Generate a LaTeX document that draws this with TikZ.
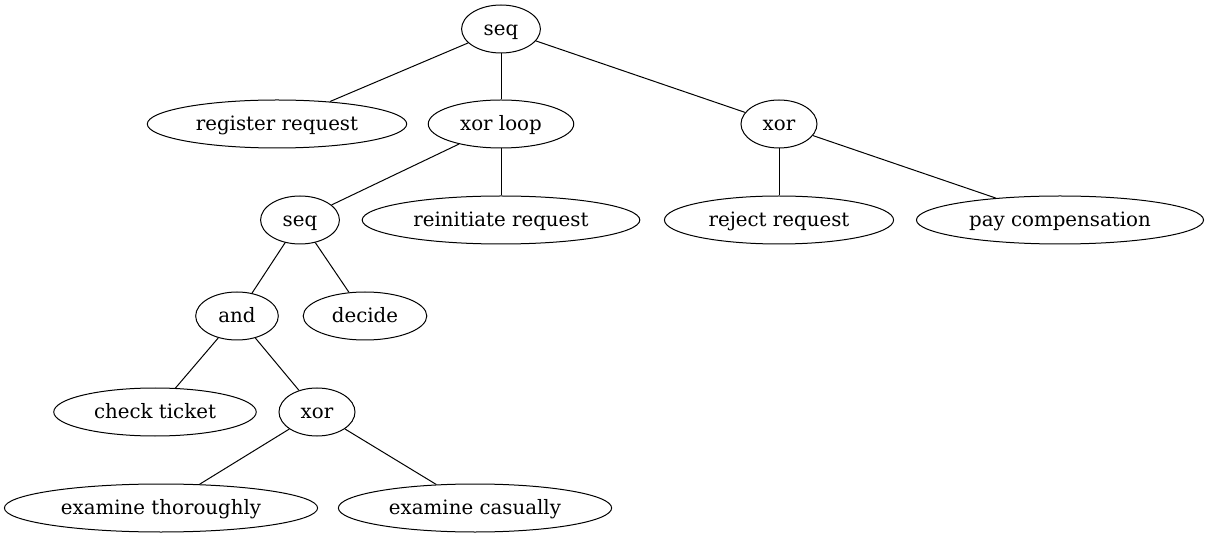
\documentclass[tikz,border=0pt]{standalone}
\usepackage{fontspec}
\setmainfont{DejaVu Serif}
\usetikzlibrary{shapes.geometric}

\begin{document}
\begin{tikzpicture}[x=0.5pt, y=-0.5pt, font=\fontsize{9.9}{12}\selectfont,
        op/.style={draw, ellipse, line width=0.5pt, inner xsep=5.3pt, inner ysep=1pt,
            text height=0.77em, text depth=0.1em, minimum height=24pt},
        ed/.style={draw, line width=0.5pt}]
        \useasboundingbox (0,0) rectangle (1209,539);
        % operators and activities
        \node[op] (seqA) at (501,29) {seq};
        \node[op] (reg) at (277,124) {register request};
        \node[op] (loop) at (501,124) {xor loop};
        \node[op] (xorA) at (779,124) {xor};
        \node[op] (seqB) at (300,220) {seq};
        \node[op] (reinit) at (501,220) {reinitiate request};
        \node[op] (reject) at (779,220) {reject request};
        \node[op] (pay) at (1060,220) {pay compensation};
        \node[op] (and) at (237,316) {and};
        \node[op] (decide) at (365,316) {decide};
        \node[op] (check) at (155,412) {check ticket};
        \node[op] (xorB) at (317,412) {xor};
        \node[op] (thor) at (161,508) {examine thoroughly};
        \node[op] (cas) at (475,508) {examine casually};
        % tree edges
        \draw[ed] (seqA) -- (reg);
        \draw[ed] (seqA) -- (loop);
        \draw[ed] (seqA) -- (xorA);
        \draw[ed] (loop) -- (seqB);
        \draw[ed] (loop) -- (reinit);
        \draw[ed] (xorA) -- (reject);
        \draw[ed] (xorA) -- (pay);
        \draw[ed] (seqB) -- (and);
        \draw[ed] (seqB) -- (decide);
        \draw[ed] (and) -- (check);
        \draw[ed] (and) -- (xorB);
        \draw[ed] (xorB) -- (thor);
        \draw[ed] (xorB) -- (cas);
    \end{tikzpicture}
\end{document}
